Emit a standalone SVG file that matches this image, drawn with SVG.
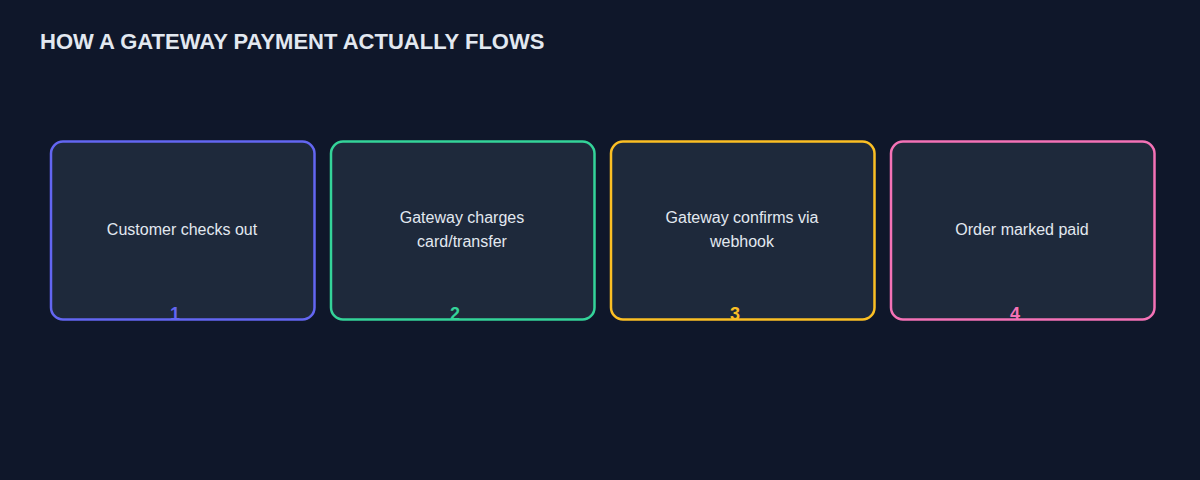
<svg xmlns="http://www.w3.org/2000/svg" width="1200" height="480" viewBox="0 0 1200 480">
<style>
.box{fill:#1e293b;stroke-width:2.5}
.t{font-family:"Liberation Sans",Arial,sans-serif;font-size:16px;fill:#e2e8f0;text-anchor:middle}
.n{font-family:"Liberation Sans",Arial,sans-serif;font-size:18px;font-weight:bold;text-anchor:middle}
</style>
<rect width="1200" height="480" fill="#0f172a"/>
<text x="40" y="49" font-family="Liberation Sans,Arial,sans-serif" font-size="22" font-weight="bold" fill="#e2e8f0">HOW A GATEWAY PAYMENT ACTUALLY FLOWS</text>
<g id="connectors"/>
<g id="n1"><rect class="box" x="51" y="141.5" width="263.5" height="178" rx="12" stroke="#6366f1"/><text class="t" x="182" y="235">Customer checks out</text><text class="n" x="175" y="320" fill="#6366f1">1</text></g>
<g id="n2"><rect class="box" x="331" y="141.5" width="263.5" height="178" rx="12" stroke="#34d399"/><text class="t" x="462" y="223">Gateway charges</text><text class="t" x="462" y="247">card/transfer</text><text class="n" x="455" y="320" fill="#34d399">2</text></g>
<g id="n3"><rect class="box" x="611" y="141.5" width="263.5" height="178" rx="12" stroke="#fbbf24"/><text class="t" x="742" y="223">Gateway confirms via</text><text class="t" x="742" y="247">webhook</text><text class="n" x="735" y="320" fill="#fbbf24">3</text></g>
<g id="n4"><rect class="box" x="891" y="141.5" width="263.5" height="178" rx="12" stroke="#f472b6"/><text class="t" x="1022" y="235">Order marked paid</text><text class="n" x="1015" y="320" fill="#f472b6">4</text></g>
</svg>
